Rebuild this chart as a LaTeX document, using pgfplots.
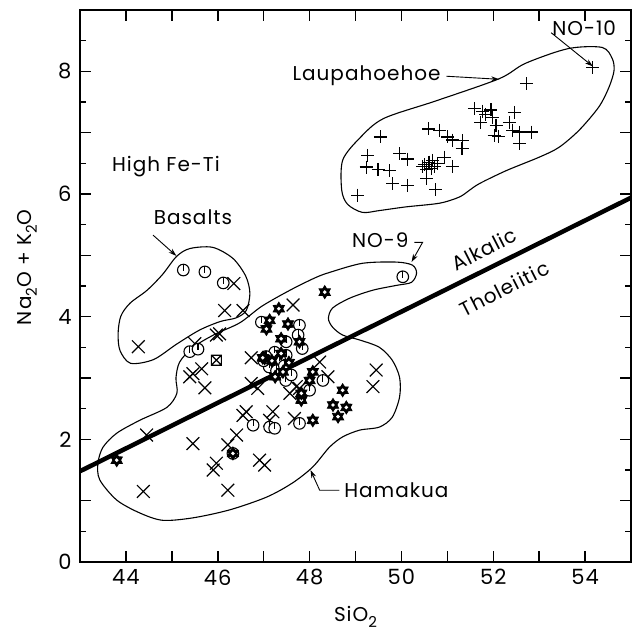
\documentclass[border=0pt]{standalone}
\usepackage{fontspec}
\setmainfont{Poppins}[LetterSpace=5]
\usepackage{pgfplots}
\pgfplotsset{compat=1.18}
\usetikzlibrary{arrows.meta}

\newcommand\lab{\fontsize{20}{22}\selectfont}
\newcommand\sub[1]{\raisebox{-0.5ex}{\fontsize{15}{15}\selectfont #1}}

% circle with a short vertical stroke from the top
\pgfdeclareplotmark{circtick}{%
  \pgfpathcircle{\pgfpointorigin}{\pgfplotmarksize}%
  \pgfusepathqfillstroke
  \pgfpathmoveto{\pgfqpoint{0pt}{\pgfplotmarksize}}%
  \pgfpathlineto{\pgfqpoint{0pt}{-0.2\pgfplotmarksize}}%
  \pgfusepathqstroke}
% six-pointed star, black with a white eye
\pgfdeclareplotmark{hexstar}{%
  \pgfpathmoveto{\pgfpointpolar{90}{\pgfplotmarksize}}%
  \pgfpathlineto{\pgfpointpolar{120}{0.6\pgfplotmarksize}}%
  \pgfpathlineto{\pgfpointpolar{150}{\pgfplotmarksize}}%
  \pgfpathlineto{\pgfpointpolar{180}{0.6\pgfplotmarksize}}%
  \pgfpathlineto{\pgfpointpolar{210}{\pgfplotmarksize}}%
  \pgfpathlineto{\pgfpointpolar{240}{0.6\pgfplotmarksize}}%
  \pgfpathlineto{\pgfpointpolar{270}{\pgfplotmarksize}}%
  \pgfpathlineto{\pgfpointpolar{300}{0.6\pgfplotmarksize}}%
  \pgfpathlineto{\pgfpointpolar{330}{\pgfplotmarksize}}%
  \pgfpathlineto{\pgfpointpolar{0}{0.6\pgfplotmarksize}}%
  \pgfpathlineto{\pgfpointpolar{30}{\pgfplotmarksize}}%
  \pgfpathlineto{\pgfpointpolar{60}{0.6\pgfplotmarksize}}%
  \pgfpathclose
  \pgfusepathqfillstroke
  \pgfscope
  \pgfsetfillcolor{white}%
  \pgfpathcircle{\pgfpointorigin}{0.3\pgfplotmarksize}%
  \pgfusepathqfill
  \endpgfscope}
% square with a cross
\pgfdeclareplotmark{sqx}{%
  \pgfpathrectangle{\pgfqpoint{-\pgfplotmarksize}{-\pgfplotmarksize}}{\pgfqpoint{2\pgfplotmarksize}{2\pgfplotmarksize}}%
  \pgfpathmoveto{\pgfqpoint{-\pgfplotmarksize}{-\pgfplotmarksize}}%
  \pgfpathlineto{\pgfqpoint{\pgfplotmarksize}{\pgfplotmarksize}}%
  \pgfpathmoveto{\pgfqpoint{-\pgfplotmarksize}{\pgfplotmarksize}}%
  \pgfpathlineto{\pgfqpoint{\pgfplotmarksize}{-\pgfplotmarksize}}%
  \pgfusepathqstroke}

\begin{document}
\begin{tikzpicture}
\begin{axis}[name=ax, scale only axis, width=551pt, height=552pt,
  xmin=43, xmax=55, ymin=0, ymax=9,
  xtick={44,...,54}, xticklabels={44,,46,,48,,50,,52,,54},
  ytick={0,...,9}, yticklabels={0,,2,,4,,6,,8,},
  minor ytick={0.5,1.5,...,8.5},
  major tick length=11pt, minor tick length=6pt, tick align=inside,
  axis line style={line width=2pt},
  every tick/.style={black, line width=1.5pt},
  tick label style={font=\fontsize{21}{22}\selectfont},
  xticklabel style={yshift=-4pt},
  yticklabel style={xshift=-5pt},
  xlabel={SiO\sub{2}},
  ylabel={Na\sub{2}O + K\sub{2}O},
  label style={font=\lab, inner sep=0pt},
  xlabel style={at={(axis description cs:0.5,-0.08)}, anchor=north},
  ylabel style={at={(axis description cs:-0.078,0.534)}, anchor=south},
]

% alkalic / tholeiitic divide
\addplot[black, line width=4.5pt] coordinates {(43,1.48) (55,5.94)};

% envelopes
\addplot[black, line width=1.1pt, smooth cycle] coordinates {
  (49.15,5.70) (48.83,5.83) (48.70,6.06) (48.72,6.55) (49.09,6.91)
  (49.61,7.23) (50.76,7.52) (52.13,7.88) (52.70,8.13) (53.63,8.37)
  (54.37,8.39) (54.59,8.21) (54.63,8.01) (54.52,7.74) (54.30,7.42)
  (53.87,7.04) (53.43,6.76) (53.00,6.60) (52.28,6.38) (51.70,6.17)
  (51.48,6.06) (51.26,5.95) (50.83,5.85) (50.10,5.79) (49.52,5.73)};
\addplot[black, line width=1.1pt, smooth cycle] coordinates {
  (45.10,4.98) (45.39,5.11) (45.89,5.13) (46.33,4.95) (46.61,4.66)
  (46.70,4.38) (46.62,4.10) (46.40,3.98) (46.05,3.92) (45.60,3.78)
  (45.10,3.55) (44.60,3.30) (44.10,3.24) (43.87,3.45) (43.83,3.73)
  (43.89,4.01) (44.09,4.22) (44.46,4.43) (44.80,4.69)};
\addplot[black, line width=1.1pt, smooth cycle] coordinates {
  (45.09,3.00) (45.17,3.26) (45.46,3.50) (45.93,3.71) (46.48,3.90)
  (46.96,4.17) (47.57,4.43) (48.11,4.63) (48.43,4.72) (49.15,4.87)
  (49.89,4.89) (50.24,4.84) (50.33,4.71) (50.22,4.56) (49.89,4.51)
  (49.37,4.43) (48.87,4.30) (48.50,4.14) (48.41,3.97) (48.50,3.83)
  (48.72,3.70) (49.09,3.62) (49.52,3.50) (49.80,3.29) (49.96,3.01)
  (49.96,2.69) (49.80,2.36) (49.52,2.20) (49.09,2.15) (48.72,2.04)
  (48.43,1.87) (48.07,1.55) (47.63,1.29) (47.07,1.06) (46.26,0.85)
  (45.46,0.72) (44.80,0.68) (44.30,0.80) (43.80,1.01) (43.43,1.34)
  (43.39,1.61) (43.50,1.87) (43.80,2.10) (44.30,2.31) (44.89,2.52)
  (45.11,2.75)};

% Laupahoehoe
\addplot[only marks, mark=+, mark size=6.5pt, mark options={line width=1.1pt}] coordinates {
  (52.72,7.80) (49.54,6.93) (49.27,6.63) (49.23,6.44) (49.49,6.40)
  (49.74,6.38) (49.05,5.98) (49.81,6.17) (50.14,6.14) (49.96,6.66)
  (50.14,6.57) (50.59,7.06) (50.83,7.04) (51.01,6.93) (51.12,6.88)
  (51.33,6.87) (51.32,6.74) (50.93,6.60) (51.11,6.45) (50.68,6.55)
  (50.50,6.48) (50.60,6.52) (50.72,6.45) (50.55,6.40) (50.78,6.50)
  (50.46,6.45) (50.66,6.42) (50.55,6.25) (50.75,6.07) (51.59,7.39)
  (51.77,7.35) (51.95,7.37) (51.84,7.30) (51.98,7.25) (51.73,7.17)
  (52.46,7.33) (52.35,7.17) (52.06,7.12) (52.42,7.04) (52.57,7.01)
  (52.84,7.01) (52.02,6.95) (52.12,6.94) (52.57,6.82) (54.17,8.06)};

% crosses
\addplot[only marks, mark=x, mark size=9pt, mark options={line width=1.2pt}] coordinates {
  (46.35,4.54) (46.15,4.10) (46.55,4.10) (47.64,4.19) (44.27,3.51)
  (45.50,3.56) (45.97,3.70) (46.04,3.72) (45.46,3.07) (45.65,3.15)
  (45.39,3.02) (45.72,2.84) (46.73,3.33) (46.73,2.91) (48.22,3.26)
  (48.40,3.02) (47.78,2.83) (47.57,2.75) (46.87,2.83) (47.71,2.86)
  (46.62,2.45) (46.55,2.39) (47.20,2.45) (47.13,2.31) (47.67,2.34)
  (46.41,2.07) (44.45,2.07) (45.46,1.93) (46.22,1.91) (45.97,1.61)
  (45.90,1.50) (46.91,1.66) (47.02,1.58) (44.38,1.15) (46.22,1.17)
  (49.45,3.13) (49.38,2.86)};

% square with cross
\addplot[only marks, mark=sqx, mark size=5pt, mark options={line width=1.2pt}] coordinates {(45.97,3.29)};

% circles
\addplot[only marks, mark=circtick, mark size=5.8pt, mark options={line width=1.1pt, fill=white}] coordinates {
  (45.25,4.76) (45.72,4.73) (46.12,4.55) (50.03,4.65) (45.39,3.43)
  (45.57,3.47) (46.95,3.91) (47.78,3.86) (47.75,3.70) (47.49,3.59)
  (47.84,3.48) (48.29,2.96) (48.00,2.80) (47.78,2.26) (46.77,2.23)
  (47.13,2.20) (47.24,2.18) (46.33,1.77) (47.24,3.42) (47.49,3.37)
  (47.48,2.96) (47.05,3.35) (47.35,3.30) (47.12,3.18) (47.28,3.12)
  (47.45,3.20) (47.60,3.05) (47.00,3.28)};

% stars
\addplot[only marks, mark=hexstar, mark size=6.5pt, mark options={line width=0.8pt, fill=black}] coordinates {
  (48.33,4.40) (47.33,4.13) (47.06,3.80) (47.13,3.94) (47.53,3.88)
  (47.38,3.64) (47.78,3.59) (48.07,3.10) (48.00,2.96) (47.82,2.64)
  (48.72,2.80) (48.51,2.56) (48.80,2.52) (48.62,2.37) (48.07,2.31)
  (46.33,1.77) (43.80,1.66) (47.02,3.32) (47.82,2.75) (46.98,3.33)
  (47.18,3.28) (47.38,3.40) (47.55,3.25) (47.25,3.02) (47.42,3.10)};

% annotations
\node[font=\lab] at (axis cs:49.24,7.93) {Laupahoehoe};
\draw[line width=0.9pt, -{Stealth[length=8pt,width=5pt]}] (axis cs:50.98,7.92) -- (axis cs:52.13,7.87);
\node[font=\lab] at (axis cs:53.98,8.70) {NO-10};
\draw[line width=0.9pt, -{Stealth[length=8pt,width=5pt]}] (axis cs:53.26,8.63) -- (axis cs:54.17,8.08);
\node[font=\lab] at (axis cs:49.54,5.24) {NO-9};
\draw[line width=0.9pt, -{Stealth[length=8pt,width=5pt]}] (axis cs:50.28,5.21) -- (axis cs:50.46,5.21) -- (axis cs:50.22,4.89);
\node[font=\lab] at (axis cs:44.87,6.45) {High Fe-Ti};
\node[font=\lab] at (axis cs:45.46,5.62) {Basalts};
\draw[line width=0.9pt, -{Stealth[length=8pt,width=5pt]}] (axis cs:44.59,5.33) -- (axis cs:45.10,4.99);
\node[font=\lab, rotate=27, inner sep=1pt] at (axis cs:51.80,5.10) {Alkalic};
\node[font=\lab, rotate=27, inner sep=1pt] at (axis cs:52.24,4.46) {Tholeiitic};
\node[font=\lab] at (axis cs:49.89,1.17) {Hamakua};
\draw[line width=0.9pt, -{Stealth[length=8pt,width=5pt]}] (axis cs:48.65,1.17) -- (axis cs:48.22,1.17) -- (axis cs:48.02,1.50);
\end{axis}
\pgfresetboundingbox
\useasboundingbox ([xshift=-80pt,yshift=-73pt]ax.south west) rectangle ([xshift=1pt,yshift=10pt]ax.north east);
\end{tikzpicture}
\end{document}
